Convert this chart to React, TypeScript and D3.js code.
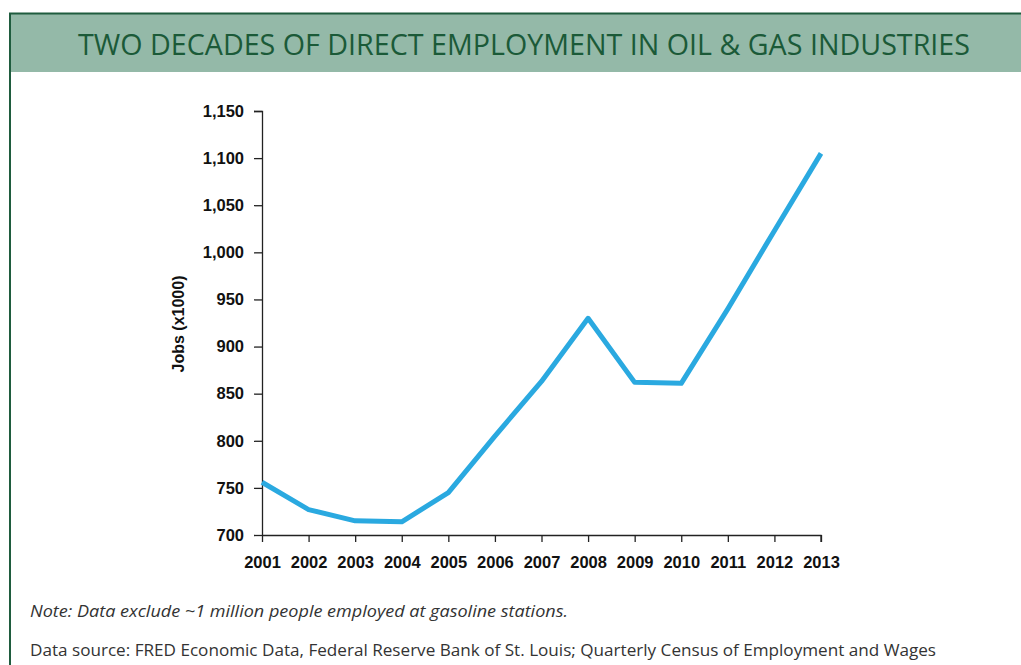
import React, { useEffect, useRef } from "react";
import * as d3 from "d3";

const years = [2001, 2002, 2003, 2004, 2005, 2006, 2007, 2008, 2009, 2010, 2011, 2012, 2013];
const jobs = [756, 727, 715, 714, 745, 805, 863, 930, 862, 861, 940, 1023, 1105];
const yTicks = [700, 750, 800, 850, 900, 950, 1000, 1050, 1100, 1150];
const title = "TWO DECADES OF DIRECT EMPLOYMENT IN OIL & GAS INDUSTRIES";
const yLabel = "Jobs (x1000)";
const note = "Note: Data exclude ~1 million people employed at gasoline stations.";
const source = "Data source: FRED Economic Data, Federal Reserve Bank of St. Louis; Quarterly Census of Employment and Wages";

export default function App() {
  const ref = useRef<SVGSVGElement>(null);
  useEffect(() => {
    const svg = d3.select(ref.current);
    svg.selectAll("*").remove();
    const W = 1021, H = 665;
    const green = "#1f5c3e";
    // header band
    svg.append("rect").attr("x", 10).attr("y", 13).attr("width", W - 10).attr("height", 59).attr("fill", "#94b9a8");
    svg.append("line").attr("x1", 9).attr("x2", W).attr("y1", 13.5).attr("y2", 13.5).attr("stroke", green).attr("stroke-width", 2);
    svg.append("line").attr("x1", 10).attr("x2", 10).attr("y1", 13).attr("y2", H).attr("stroke", green).attr("stroke-width", 2);
    svg.append("text").attr("x", 78).attr("y", 55).attr("fill", "#1b5a38")
      .attr("font-family", "'Open Sans', 'Noto Sans', sans-serif").attr("font-size", 29)
      .attr("textLength", 892).attr("lengthAdjust", "spacingAndGlyphs").text(title);

    const x = d3.scaleLinear().domain([2001, 2013]).range([262, 821]);
    const y = d3.scaleLinear().domain([700, 1150]).range([535, 111]);
    const font = "'Liberation Sans', Arial, sans-serif";

    const yAxis = svg.append("g").attr("transform", "translate(262,0)")
      .call(d3.axisLeft(y).tickValues(yTicks).tickSize(8).tickPadding(10).tickFormat(d3.format(",")));
    const xAxis = svg.append("g").attr("transform", "translate(0,535)")
      .call(d3.axisBottom(x).tickValues(years).tickSize(7).tickPadding(14).tickFormat(d3.format("d")));
    [yAxis, xAxis].forEach((g) => {
      g.select(".domain").attr("stroke", "#222").attr("stroke-width", 1.3);
      g.selectAll(".tick line").attr("stroke", "#222").attr("stroke-width", 1.3);
      g.selectAll(".tick text").attr("fill", "#111").attr("font-family", font).attr("font-weight", "bold").attr("font-size", 16.5);
    });
    yAxis.select(".domain").attr("d", "M-8,111.5H0.5V535.5");
    xAxis.select(".domain").attr("d", "M262,0.5H821V7");

    svg.append("text").attr("transform", "translate(184,324) rotate(-90)").attr("text-anchor", "middle")
      .attr("font-family", font).attr("font-weight", "bold").attr("font-size", 16).attr("fill", "#111").text(yLabel);

    const line = d3.line<number>().x((_, i) => x(years[i])).y((d) => y(d));
    svg.append("path").attr("d", line(jobs)).attr("fill", "none").attr("stroke", "#2aa9e0")
      .attr("stroke-width", 5).attr("stroke-linejoin", "round");

    svg.append("text").attr("x", 30).attr("y", 617).attr("fill", "#333").attr("font-style", "italic")
      .attr("font-family", "'Open Sans', 'Noto Sans', sans-serif").attr("font-size", 16)
      .attr("textLength", 538).attr("lengthAdjust", "spacingAndGlyphs").text(note);
    svg.append("text").attr("x", 30).attr("y", 656).attr("fill", "#333")
      .attr("font-family", "'Open Sans', 'Noto Sans', sans-serif").attr("font-size", 16)
      .attr("textLength", 906).attr("lengthAdjust", "spacingAndGlyphs").text(source);
  }, []);
  return <svg ref={ref} width={1021} height={665} style={{ position: "absolute", left: 0, top: 0, background: "#fff" }} />;
}
